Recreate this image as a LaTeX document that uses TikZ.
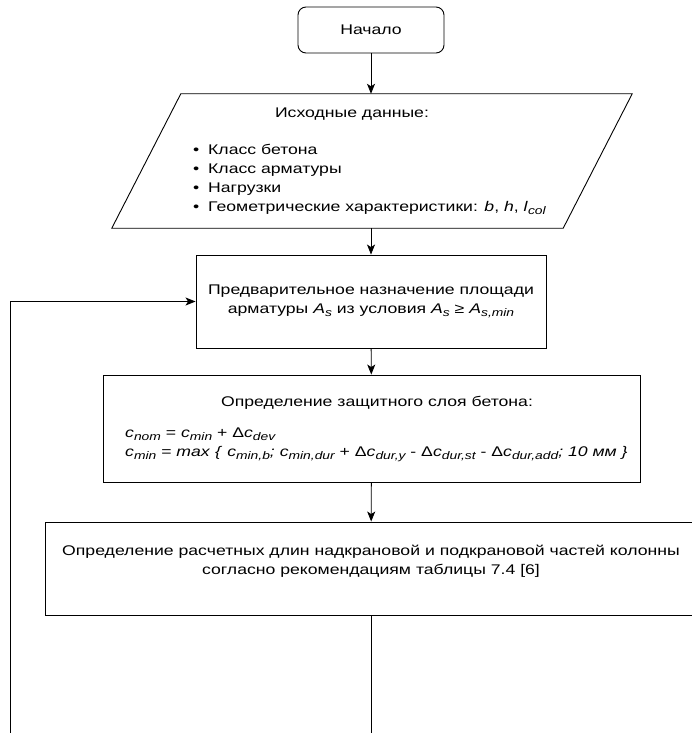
\documentclass[tikz,border=0pt]{standalone}
\usepackage{fontspec}
\setmainfont{Liberation Sans}[FakeStretch=1.26]
\usetikzlibrary{arrows.meta,positioning}
\newcommand{\isub}[2]{\textit{#1}\raisebox{-3pt}{\fontsize{11}{11}\selectfont\itshape #2}}
\newcommand{\itm}{\makebox[15pt][l]{\textbullet}}

\begin{document}
\begin{tikzpicture}[x=1pt, y=-1pt,
  font=\fontsize{14}{19}\selectfont, >={Stealth[length=10pt,width=8pt,inset=2.5pt]},
  blk/.style={draw, line width=0.9pt, inner sep=0pt},
  term/.style={blk, rounded corners=8pt, minimum width=146pt, minimum height=46pt},
  proc/.style={blk, rectangle, align=center},
  io/.style={inner sep=0pt, minimum width=451pt, minimum height=134pt},
  flow/.style={->, line width=0.9pt},
  txt/.style={inner sep=0pt, align=center}]
\useasboundingbox (0,0) rectangle (692,733);
\node[term] (start) at (371,30) {Начало};
% input data (parallelogram)
\node[io] (data) at (372,161) {};
\draw[line width=0.9pt] ([xshift=34.5pt]data.north west) -- ([xshift=34.5pt]data.north east)
  -- ([xshift=-34.5pt]data.south east) -- ([xshift=-34.5pt]data.south west) -- cycle;
\node[txt] (datahead) at (352,114) {Исходные данные:};
\node[txt, anchor=west, align=left] (datalist) at (193,179.5) {\itm Класс бетона\\
  \itm Класс арматуры\\
  \itm Нагрузки\\
  \itm Геометрические характеристики: \textit{b}, \textit{h}, \isub{l}{col}};
\node[proc, minimum width=350pt, minimum height=93pt] (pre) at (371,301.5)
  {Предварительное назначение площади\\арматуры \isub{A}{s} из условия \isub{A}{s} ≥ \isub{A}{s,min}};
\node[proc, minimum width=537pt, minimum height=107pt] (cover) at (371.5,428.5) {};
\node[txt] (coverhead) at (377,403) {Определение защитного слоя бетона:};
\node[txt, anchor=west, align=left] (coverform) at (125,445) {\isub{c}{nom} = \isub{c}{min} + Δ\isub{c}{dev}\\
  \isub{c}{min} = \textit{max} \textit{\{} \isub{c}{min,b}\textit{;} \isub{c}{min,dur} + Δ\isub{c}{dur,y} - Δ\isub{c}{dur,st} - Δ\isub{c}{dur,add}\textit{; 10 мм \}}};
\node[proc, minimum width=652pt, minimum height=93pt] (len) at (371,568.5) {};
\node[txt] (lentext) at (371,561.5) {Определение расчетных длин надкрановой и подкрановой частей колонны\\
  согласно рекомендациям таблицы 7.4 [6]};
\coordinate (loopend) at (10,733);
\coordinate (exit) at (371,733);
\draw[flow] (start) -- (start |- data.north);
\draw[flow] (start |- data.south) -- (pre);
\draw[flow] (pre) -- (cover);
\draw[flow] (cover) -- (len);
\draw[line width=0.9pt] (len) -- (exit);
\draw[flow] (loopend) |- (pre.west);
\end{tikzpicture}
\end{document}
